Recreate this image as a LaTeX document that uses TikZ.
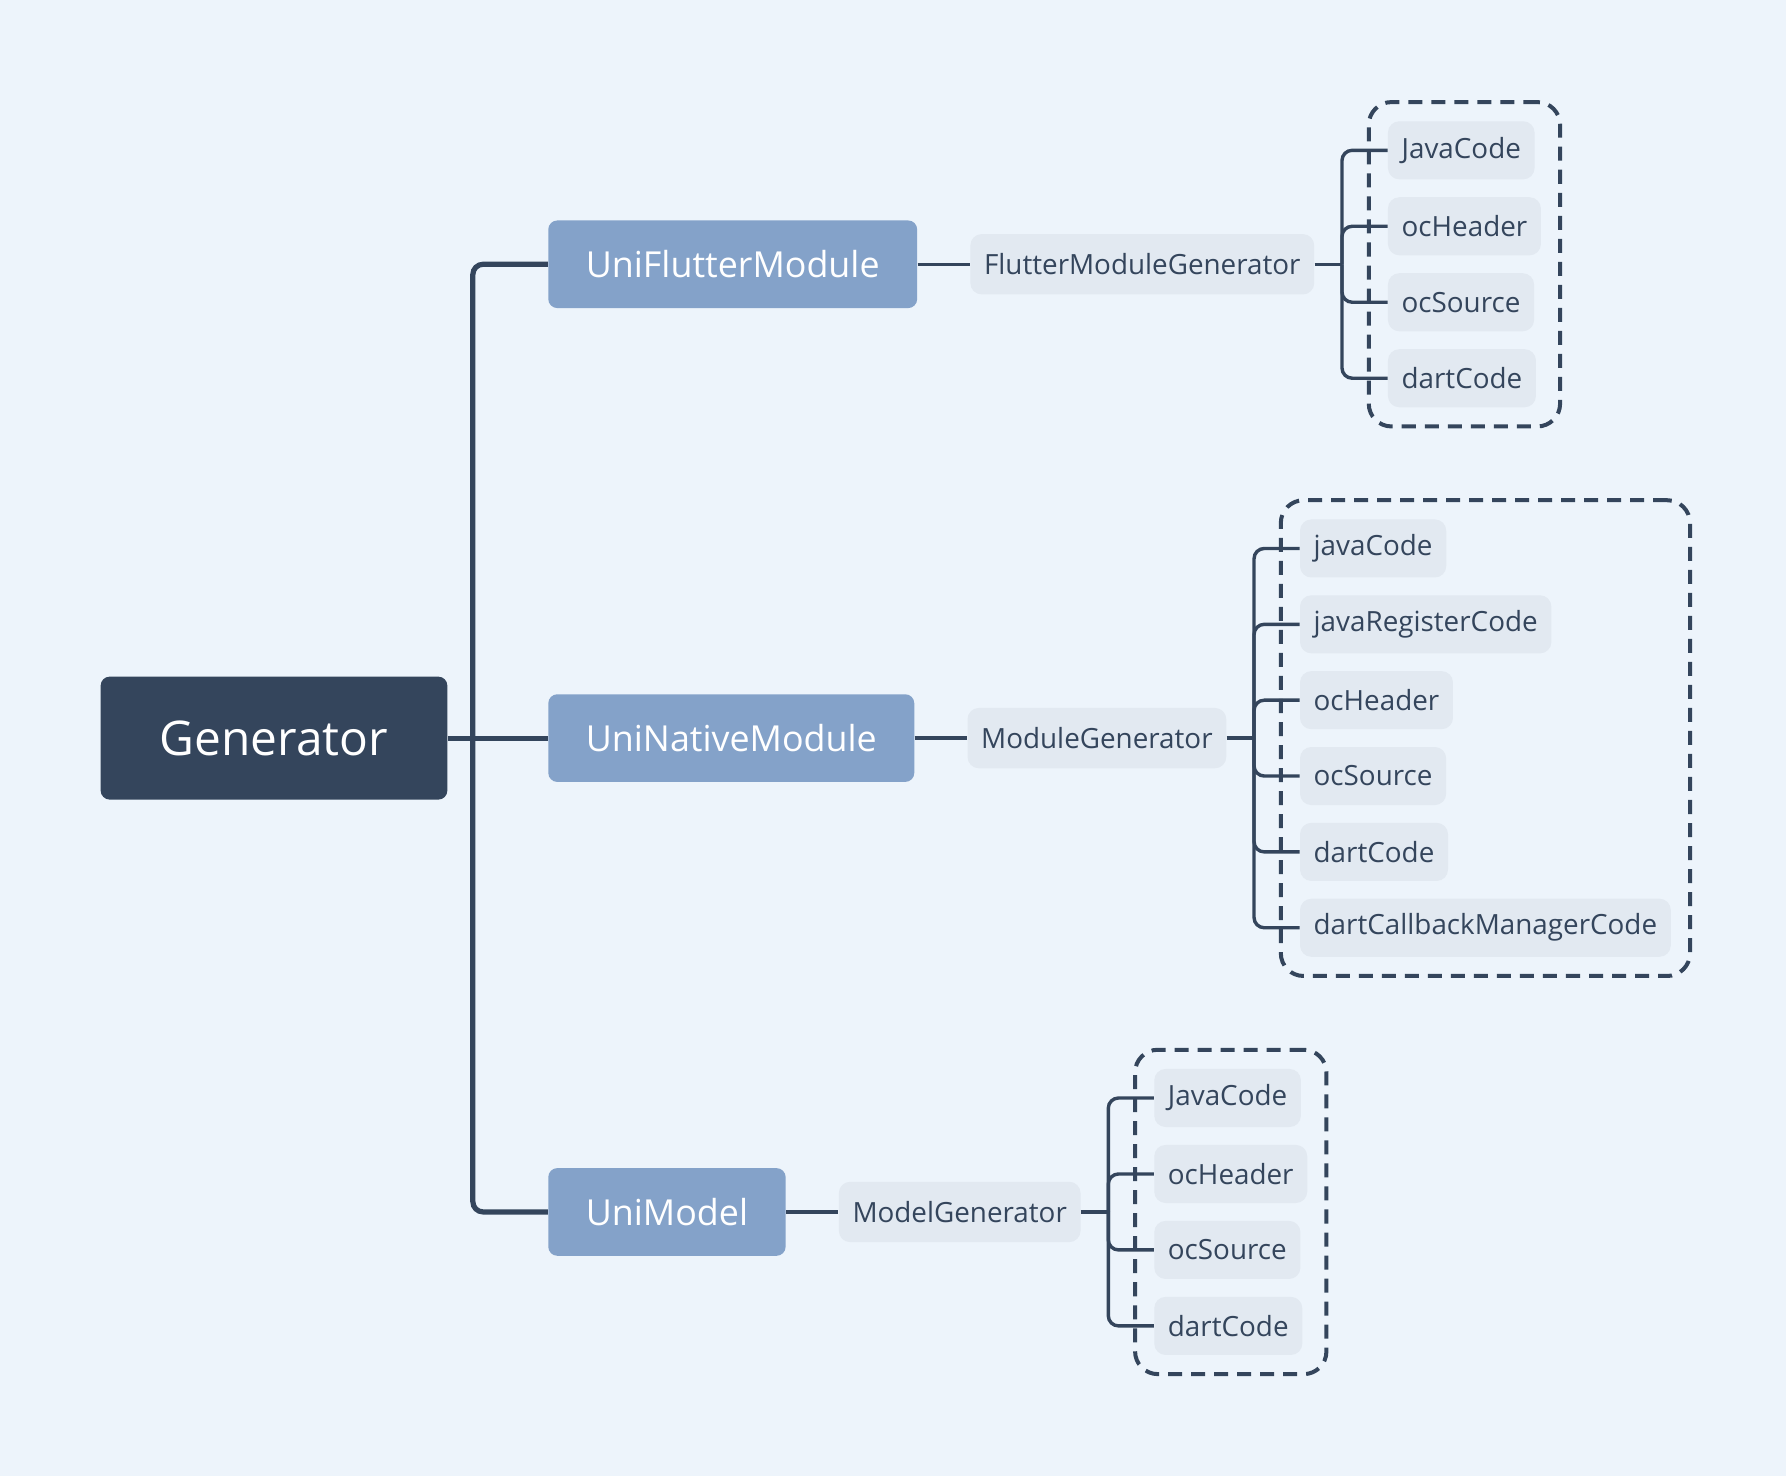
\documentclass[tikz,border=0pt]{standalone}
\usepackage{fontspec}
\setmainfont{Open Sans}
\usetikzlibrary{positioning,calc,fit}

\definecolor{navy}{HTML}{34455C}
\definecolor{steel}{HTML}{84A2C9}
\definecolor{paper}{HTML}{EDF4FB}
\definecolor{chip}{HTML}{E2E9F1}

\tikzset{
  rootbox/.style={fill=navy, text=white, rounded corners=0.16cm,
    minimum height=2.16cm, inner xsep=1.04cm, font=\fontsize{23.9}{28}\selectfont},
  modbox/.style={fill=steel, text=white, rounded corners=0.16cm,
    minimum height=1.54cm, inner xsep=0.66cm, font=\fontsize{17.9}{21}\selectfont},
  genbox/.style={fill=chip, text=navy, rounded corners=0.2cm,
    minimum height=1.06cm, inner xsep=0.24cm, font=\fontsize{13.9}{17}\selectfont},
  leafbox/.style={fill=chip, text=navy, rounded corners=0.2cm,
    minimum height=1.02cm, inner xsep=0.24cm, font=\fontsize{13.9}{17}\selectfont},
  trunk/.style={draw=navy, line width=2.6pt},
  branch/.style={draw=navy, line width=1.7pt},
  groupbox/.style={draw=navy, line width=2pt, rounded corners=0.4cm,
    dash pattern=on 7pt off 4.5pt, inner sep=0.33cm},
}

\begin{document}
\begin{tikzpicture}[x=0.02cm, y=-0.02cm, line cap=butt]

  % background
  \fill [paper] (0,0) rectangle (1568,1296);
  \useasboundingbox (0,0) rectangle (1568,1296);

  % root
  \node [rootbox, anchor=west] (gen) at (88,648) {Generator};

  % modules
  \node [modbox, anchor=west] (ufm) at (481,232) {UniFlutterModule};
  \node [modbox, anchor=west] (unm) at (481,648) {UniNativeModule};
  \node [modbox, anchor=west] (um)  at (481,1064) {UniModel};

  % generators
  \node [genbox, right=0.92cm of ufm] (fmg) {FlutterModuleGenerator};
  \node [genbox, right=0.92cm of unm] (mg)  {ModuleGenerator};
  \node [genbox, right=0.92cm of um]  (mdg) {ModelGenerator};

  % root to modules
  \coordinate (genhub) at ($(gen.east)+(22,0)$);
  \draw [trunk] (gen.east) -- (unm.west);
  \draw [trunk, rounded corners=0.18cm] (genhub) |- (ufm.west);
  \draw [trunk, rounded corners=0.18cm] (genhub) |- (um.west);

  % modules to generators
  \draw [branch] (ufm) -- (fmg);
  \draw [branch] (unm) -- (mg);
  \draw [branch] (um) -- (mdg);

  % flutter outputs
  \foreach [count=\i] \t in {JavaCode,ocHeader,ocSource,dartCode}{%
    \node [leafbox, anchor=west] (fl\i) at ($(fmg.east)+(64,{(\i-2.5)*66.7})$) {\t};
  }
  \coordinate (fhub) at ($(fmg.east)+(24,0)$);
  \draw [branch] (fmg.east) -- (fhub);
  \foreach \i in {1,...,4}
    \draw [branch, rounded corners=0.18cm] (fhub) |- (fl\i.west);
  \node [groupbox, fit=(fl1) (fl2) (fl3) (fl4)] (fgroup) {};

  % native outputs
  \foreach [count=\i] \t in {javaCode,javaRegisterCode,ocHeader,ocSource,dartCode,dartCallbackManagerCode}{%
    \node [leafbox, anchor=west] (nl\i) at ($(mg.east)+(64,{(\i-3.5)*66.6})$) {\t};
  }
  \coordinate (nhub) at ($(mg.east)+(24,0)$);
  \draw [branch] (mg.east) -- (nhub);
  \foreach \i in {1,...,6}
    \draw [branch, rounded corners=0.18cm] (nhub) |- (nl\i.west);
  \node [groupbox, fit=(nl1) (nl2) (nl6)] (ngroup) {};

  % model outputs
  \foreach [count=\i] \t in {JavaCode,ocHeader,ocSource,dartCode}{%
    \node [leafbox, anchor=west] (ml\i) at ($(mdg.east)+(64,{(\i-2.5)*66.7})$) {\t};
  }
  \coordinate (mhub) at ($(mdg.east)+(24,0)$);
  \draw [branch] (mdg.east) -- (mhub);
  \foreach \i in {1,...,4}
    \draw [branch, rounded corners=0.18cm] (mhub) |- (ml\i.west);
  \node [groupbox, fit=(ml1) (ml2) (ml3) (ml4)] (mgroup) {};

\end{tikzpicture}
\end{document}
